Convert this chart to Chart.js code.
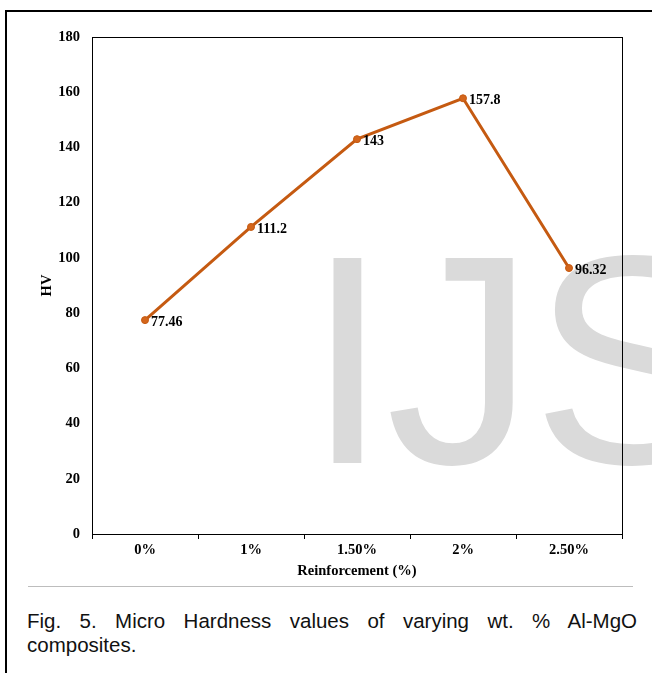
<!DOCTYPE html>
<html>
<head>
<meta charset="utf-8">
<script src="https://cdn.jsdelivr.net/npm/chart.js@4.4.1/dist/chart.umd.min.js"></script>
<style>
  html, body { margin: 0; padding: 0; background: #fff; }
  body { width: 652px; height: 673px; position: relative; overflow: hidden; }
  #frame { position: absolute; left: 5px; top: 10px; width: 700px; height: 700px;
           border-left: 2px solid #000; border-top: 2px solid #000; box-sizing: border-box; }
  #wm { position: absolute; left: 306px; top: 0; font-family: "Liberation Sans", Arial, sans-serif;
        font-size: 298px; color: #dadada; white-space: nowrap; line-height: 1; letter-spacing: -3px; }
  #chartBox { position: absolute; left: 0; top: 0; width: 652px; height: 590px; }
  #sep { position: absolute; left: 28px; top: 586px; width: 605px; height: 0; border-top: 1px solid #bdbdbd; }
  .cap { position: absolute; left: 27px; width: 610px; font-family: "Liberation Sans", Arial, sans-serif;
         font-size: 20.5px; line-height: 24px; color: #111; white-space: nowrap; }
  #cap1 { top: 609px; text-align: justify; text-align-last: justify; white-space: normal; }
  #cap2 { top: 633px; }
</style>
</head>
<body>
<div id="frame"></div>
<div id="wm">IJS</div>
<div id="chartBox"><canvas id="c" width="652" height="590"></canvas></div>
<div id="sep"></div>
<div class="cap" id="cap1">Fig. 5. Micro Hardness values of varying wt. % Al-MgO</div>
<div class="cap" id="cap2">composites.</div>
<script>
const categories = ["0%", "1%", "1.50%", "2%", "2.50%"];
const hvValues = [77.46, 111.2, 143, 157.8, 96.32];
const valueLabels = ["77.46", "111.2", "143", "157.8", "96.32"];
const yTicks = [0, 20, 40, 60, 80, 100, 120, 140, 160, 180];

// place the watermark so its baseline sits at y = 463
(function () {
  const wm = document.getElementById('wm');
  const s = 298;
  wm.style.top = (463 - 0.905 * s - (s - (0.905 + 0.212) * s) / 2) + 'px';
})();

const serifBold = { family: '"Liberation Serif", "Times New Roman", serif', weight: 'bold', size: 14.5 };

const boxPlugin = {
  id: 'box',
  afterDraw(chart) {
    const { ctx, chartArea: a } = chart;
    ctx.save();
    ctx.strokeStyle = '#000';
    ctx.lineWidth = 1;
    ctx.strokeRect(Math.round(a.left) + 0.5, Math.round(a.top) + 0.5,
                   Math.round(a.right - a.left), Math.round(a.bottom - a.top));
    ctx.restore();
  }
};

const labelPlugin = {
  id: 'vlabels',
  afterDatasetsDraw(chart) {
    const { ctx } = chart;
    const meta = chart.getDatasetMeta(0);
    ctx.save();
    ctx.font = 'bold 14px "Liberation Serif", "Times New Roman", serif';
    ctx.fillStyle = '#000';
    ctx.textAlign = 'left';
    ctx.textBaseline = 'middle';
    meta.data.forEach((pt, i) => {
      ctx.fillText(valueLabels[i], pt.x + 6, pt.y + 2);
    });
    ctx.restore();
  }
};

new Chart(document.getElementById('c'), {
  type: 'line',
  data: {
    labels: categories,
    datasets: [{
      data: hvValues,
      borderColor: '#C55A11',
      backgroundColor: '#C55A11',
      borderWidth: 3,
      pointRadius: 3.5,
      pointBackgroundColor: '#D4661C',
      pointBorderColor: '#C55A11',
      pointBorderWidth: 1,
      tension: 0,
      fill: false
    }]
  },
  options: {
    responsive: false,
    animation: false,
    events: [],
    layout: { padding: { left: 38, right: 30, top: 37, bottom: 7 } },
    plugins: { legend: { display: false }, tooltip: { enabled: false }, title: { display: false } },
    scales: {
      x: {
        type: 'category',
        offset: true,
        grid: { display: true, offset: true, drawOnChartArea: false, drawTicks: true,
                tickLength: 5, color: '#000', lineWidth: 1 },
        border: { display: true, color: '#000', width: 1 },
        ticks: { color: '#000', font: serifBold, padding: 3, maxRotation: 0 },
        title: { display: true, text: 'Reinforcement (%)', color: '#000', font: serifBold,
                 padding: { top: 2, bottom: 3 } },
        afterFit(scale) { scale.height = 49; }
      },
      y: {
        min: 0, max: 180,
        afterBuildTicks(scale) { scale.ticks = yTicks.map(v => ({ value: v })); },
        grid: { display: false, drawOnChartArea: false, drawTicks: false },
        border: { display: true, color: '#000', width: 1 },
        ticks: { color: '#000', font: serifBold, padding: 12 },
        title: { display: true, text: 'HV', color: '#000', font: serifBold, padding: { top: 1, bottom: 4 } },
        afterFit(scale) { scale.width = 54; }
      }
    }
  },
  plugins: [boxPlugin, labelPlugin]
});
</script>
</body>
</html>
